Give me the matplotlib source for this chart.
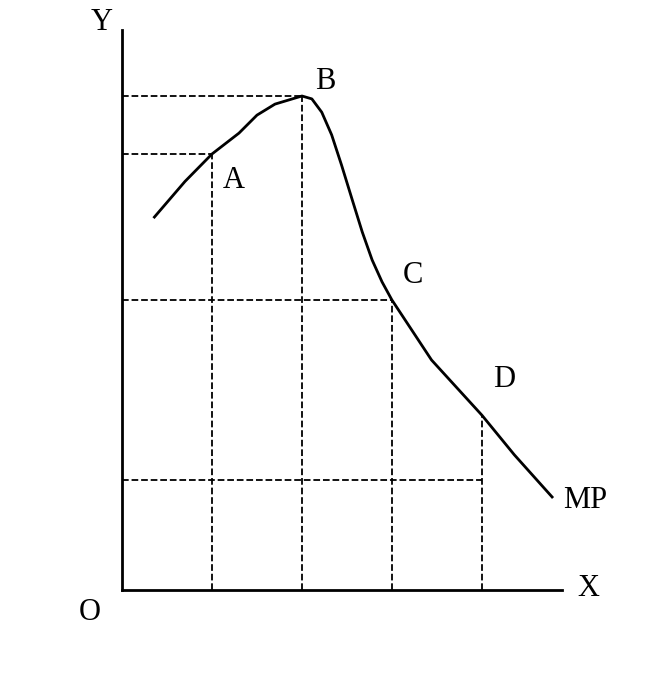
import numpy as np
import matplotlib.pyplot as plt

plt.rcParams["font.family"] = ["Liberation Serif", "Noto Sans", "DejaVu Sans"]

# labour input (x) and marginal product (y)
labour = [3.6, 7, 10, 13, 15, 17, 20, 21.1, 22.2, 23.3, 24.4, 25.6, 26.7, 27.8, 28.9, 30,
          34.4, 40, 43.6, 47.8]
mp = [12.84, 14.06, 15.0, 15.36, 15.67, 15.86, 16.0, 15.95, 15.72, 15.33, 14.62, 13.42,
      12.33, 11.37, 10.62, 10.0, 9.0, 8.08, 7.42, 5.92]

points = {"A": (10, 15), "B": (20, 16), "C": (30, 10), "D": (40, 8.08)}
xticks = [10, 20, 30, 40]
xlabels = ["১০", "২০", "৩০", "৪০"]
yticks = [7, 10, 15, 16]
ylabels = ["৭", "১০", "১৫", "১৬"]

# uneven vertical scale of the hand-drawn original
y_anchor = [0, 7, 10, 15, 16, 18]
h_anchor = [0, 110, 290, 436, 494, 610]
fwd = lambda v: np.interp(v, y_anchor, h_anchor)
inv = lambda h: np.interp(h, h_anchor, y_anchor)

fig = plt.figure(figsize=(6.47, 6.87), dpi=100)
ax = fig.add_axes([122 / 647, 97 / 687, 440 / 647, 560 / 687])
ax.set_yscale("function", functions=(fwd, inv))
ax.set_xlim(0, 48.9)
ax.set_ylim(0, inv(560))

ax.plot(labour, mp, color="black", lw=2)

for name, (px, py) in points.items():
    ax.plot([px, px], [0, py], ls="--", color="black", lw=1.3)
for yv in yticks:
    idx = {7: 40, 10: 30, 15: 10, 16: 20}[yv]
    ax.plot([0, idx], [yv, yv], ls="--", color="black", lw=1.3)

offs = {"A": (1.2, -0.9), "B": (1.5, 0.0), "C": (1.2, 0.35), "D": (1.2, 0.35)}
for name, (px, py) in points.items():
    dx, dy = offs[name]
    ax.text(px + dx, py + dy, name, fontsize=22, va="bottom" if name != "A" else "center")
ax.text(49, 5.2, "MP", fontsize=22)

for s in ["top", "right"]:
    ax.spines[s].set_visible(False)
ax.spines["left"].set_linewidth(2)
ax.spines["bottom"].set_linewidth(2)
ax.set_xticks(xticks, xlabels, fontsize=16)
ax.set_yticks(yticks, ylabels, fontsize=16)
ax.tick_params(length=0, pad=8)
ax.set_xlabel("শ্রম উপকরণ", fontsize=16)
ax.set_ylabel("প্রান্তিক উৎপাদন", fontsize=16)

fig.text(90 / 647, 1 - 612 / 687, "O", fontsize=22, ha="center", va="center")
fig.text(588 / 647, 1 - 588 / 687, "X", fontsize=22, ha="center", va="center")
fig.text(102 / 647, 1 - 22 / 687, "Y", fontsize=22, ha="center", va="center")

fig.savefig("out.png")
